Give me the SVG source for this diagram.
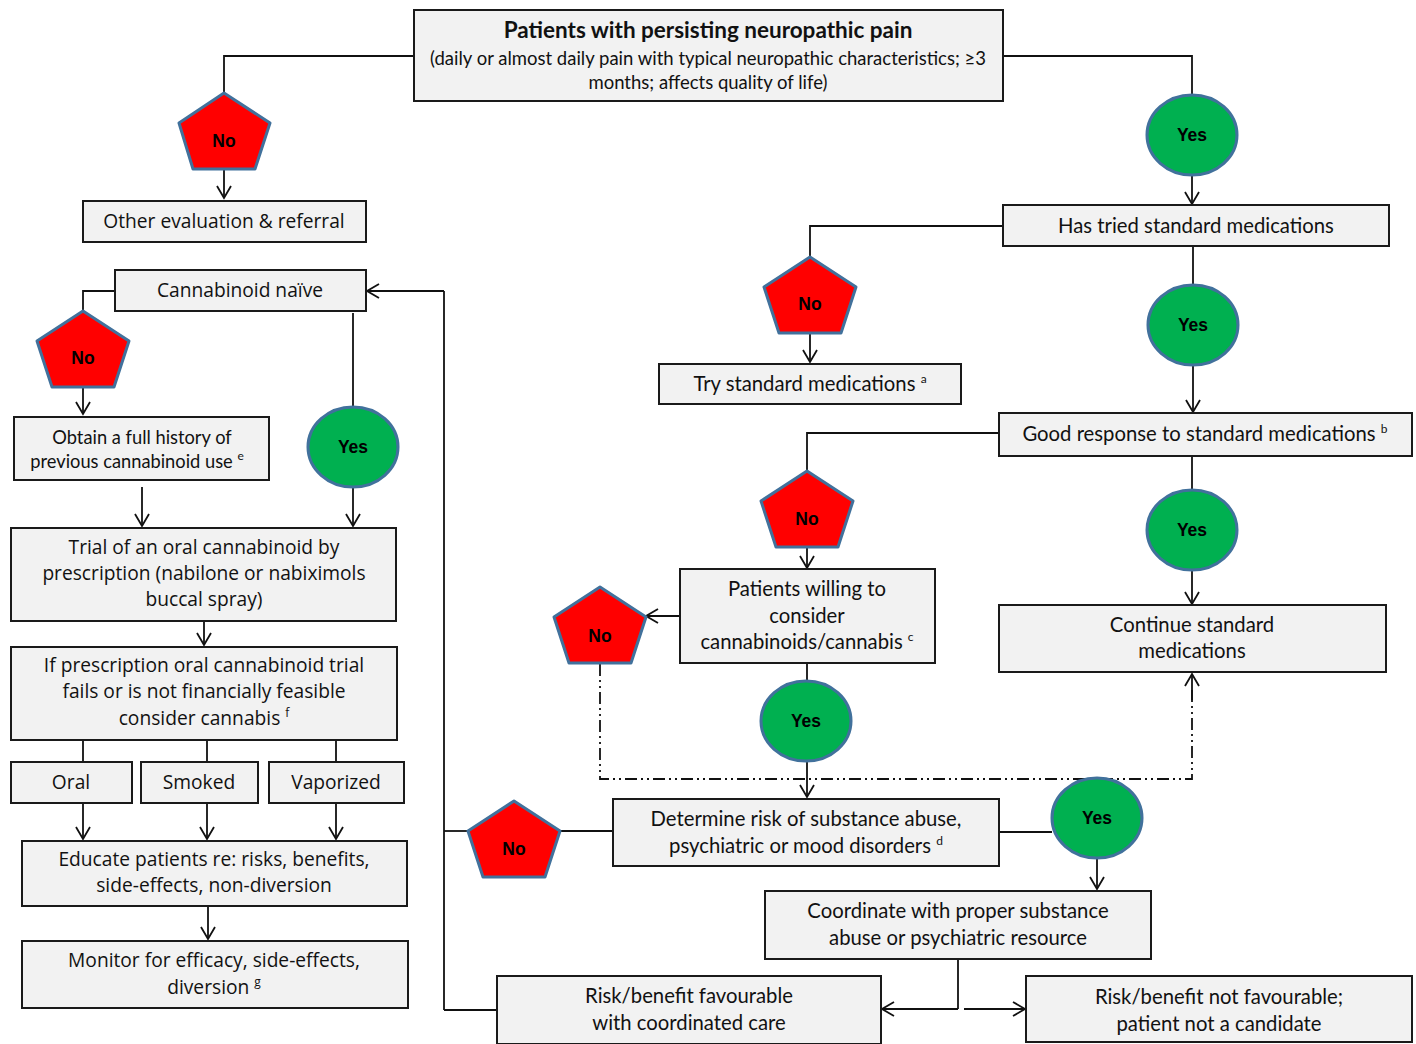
<svg xmlns="http://www.w3.org/2000/svg" width="1416" height="1044" viewBox="0 0 1416 1044">
<style>
.box{fill:#f2f2f2;stroke:#1a1a1a;stroke-width:2}
.no{fill:#ff0000;stroke:#41719c;stroke-width:3;stroke-linejoin:round}
.yes{fill:#00b050;stroke:#41719c;stroke-width:3}
.lbl{font-family:"Liberation Sans",Arial,sans-serif;font-weight:bold;font-size:17.5px;fill:#000;text-anchor:middle}
.a{font-family:"Open Sans","Noto Sans",sans-serif;font-size:19.2px;fill:#111;text-anchor:middle}
.b{font-family:Lato,"Liberation Sans",sans-serif;font-size:20.3px;fill:#111;text-anchor:middle}
.sup{font-size:12px}
.c{fill:none;stroke:#111;stroke-width:1.8}
.ar{marker-end:url(#arr)}
.dd{fill:none;stroke:#111;stroke-width:1.8;stroke-dasharray:12 4 2 4 2 4}
</style>
<defs>
<marker id="arr" markerUnits="userSpaceOnUse" markerWidth="16" markerHeight="18" refX="13" refY="9" orient="auto">
<path d="M1,2 L13,9 L1,16" fill="none" stroke="#111" stroke-width="1.8"/>
</marker>
</defs>

<g id="connectors">
<path class="c" d="M414,56 H224 V93"/>
<path class="c ar" d="M224,169 V198"/>
<path class="c" d="M1003,56 H1192 V95"/>
<path class="c ar" d="M1192,175 V204"/>
<path class="c" d="M1003,226 H810 V257"/>
<path class="c ar" d="M810,333 V362"/>
<path class="c" d="M1193,246 V285"/>
<path class="c ar" d="M1193,365 V412"/>
<path class="c" d="M999,433 H807 V471"/>
<path class="c ar" d="M807,547 V568"/>
<path class="c" d="M1192,456 V490"/>
<path class="c ar" d="M1192,570 V604"/>
<path class="c ar" d="M680,616 H646"/>
<path class="c" d="M807,663 V681"/>
<path class="c ar" d="M807,761 V797"/>
<path class="dd" d="M600,664 V779 H1192 V690"/>
<path class="c ar" d="M1192,700 V674"/>
<path class="c" d="M613,831 H560"/>
<path class="c" d="M468,831 H444"/>
<path class="c" d="M444,1010 V291"/>
<path class="c ar" d="M444,291 H367"/>
<path class="c" d="M444,1010 H497"/>
<path class="c" d="M999,832 H1052"/>
<path class="c ar" d="M1097,858 V889"/>
<path class="c" d="M958,959 V1009"/>
<path class="c ar" d="M958,1009 H882"/>
<path class="c ar" d="M964,1009 H1025"/>
<path class="c" d="M115,291 H83 V311"/>
<path class="c ar" d="M83,387 V414"/>
<path class="c" d="M353,313 V407"/>
<path class="c ar" d="M353,487 V526"/>
<path class="c ar" d="M142,487 V526"/>
<path class="c ar" d="M204,621 V645"/>
<path class="c" d="M83,740 V762 M207,740 V762 M336,740 V762"/>
<path class="c ar" d="M83,803 V839"/>
<path class="c ar" d="M207,803 V839"/>
<path class="c ar" d="M336,803 V839"/>
<path class="c ar" d="M208,906 V939"/>
</g>

<g id="n-top"><rect class="box" x="414" y="10" width="589" height="91"/>
<text class="b" x="708" y="38" style="font-weight:bold;font-size:22.5px">Patients with persisting neuropathic pain</text>
<text class="b" x="708" y="65" style="font-size:18.5px">(daily or almost daily pain with typical neuropathic characteristics; ≥3</text>
<text class="b" x="708" y="89" style="font-size:18.5px">months; affects quality of life)</text></g>

<g id="no1"><polygon class="no" points="224,93 270,123 255,169 193,169 179,123"/><text class="lbl" x="224" y="147">No</text></g>
<g id="n-other"><rect class="box" x="83" y="201" width="283" height="41"/><text class="a" x="224" y="228">Other evaluation &amp; referral</text></g>

<g id="yes1"><ellipse class="yes" cx="1192" cy="135" rx="45" ry="40"/><text class="lbl" x="1192" y="141">Yes</text></g>
<g id="n-tried"><rect class="box" x="1003" y="205" width="386" height="41"/><text class="b" x="1196" y="233">Has tried standard medications</text></g>

<g id="no2"><polygon class="no" points="810,257 856,287 841,333 779,333 764,287"/><text class="lbl" x="810" y="310">No</text></g>
<g id="n-try"><rect class="box" x="659" y="364" width="302" height="40"/><text class="b" x="810" y="391">Try standard medications <tspan class="sup" dy="-8">a</tspan></text></g>

<g id="yes2"><ellipse class="yes" cx="1193" cy="325" rx="45" ry="40"/><text class="lbl" x="1193" y="331">Yes</text></g>
<g id="n-good"><rect class="box" x="999" y="413" width="413" height="43"/><text class="b" x="1205" y="441">Good response to standard medications <tspan class="sup" dy="-8">b</tspan></text></g>

<g id="no3"><polygon class="no" points="807,471 853,501 838,547 776,547 761,501"/><text class="lbl" x="807" y="525">No</text></g>
<g id="yes3"><ellipse class="yes" cx="1192" cy="530" rx="45" ry="40"/><text class="lbl" x="1192" y="536">Yes</text></g>

<g id="n-willing"><rect class="box" x="680" y="569" width="255" height="94"/>
<text class="b" x="807" y="596">Patients willing to</text>
<text class="b" x="807" y="623">consider</text>
<text class="b" x="807" y="649">cannabinoids/cannabis <tspan class="sup" dy="-8">c</tspan></text></g>

<g id="n-continue"><rect class="box" x="999" y="605" width="387" height="67"/>
<text class="b" x="1192" y="632">Continue standard</text>
<text class="b" x="1192" y="658">medications</text></g>

<g id="no4"><polygon class="no" points="600,587 646,617 631,663 569,663 554,617"/><text class="lbl" x="600" y="642">No</text></g>
<g id="yes4"><ellipse class="yes" cx="806" cy="721" rx="45" ry="40"/><text class="lbl" x="806" y="727">Yes</text></g>

<g id="n-determine"><rect class="box" x="613" y="799" width="386" height="67"/>
<text class="b" x="806" y="826">Determine risk of substance abuse,</text>
<text class="b" x="806" y="853">psychiatric or mood disorders <tspan class="sup" dy="-8">d</tspan></text></g>

<g id="no5"><polygon class="no" points="514,801 560,831 545,877 483,877 468,831"/><text class="lbl" x="514" y="855">No</text></g>
<g id="yes5"><ellipse class="yes" cx="1097" cy="818" rx="45" ry="40"/><text class="lbl" x="1097" y="824">Yes</text></g>

<g id="n-coord"><rect class="box" x="765" y="891" width="386" height="68"/>
<text class="b" x="958" y="918">Coordinate with proper substance</text>
<text class="b" x="958" y="945">abuse or psychiatric resource</text></g>

<g id="n-fav"><rect class="box" x="497" y="976" width="384" height="68"/>
<text class="b" x="689" y="1003">Risk/benefit favourable</text>
<text class="b" x="689" y="1030">with coordinated care</text></g>

<g id="n-notfav"><rect class="box" x="1026" y="976" width="386" height="66"/>
<text class="b" x="1219" y="1004">Risk/benefit not favourable;</text>
<text class="b" x="1219" y="1031">patient not a candidate</text></g>

<g id="n-naive"><rect class="box" x="115" y="270" width="251" height="41"/><text class="a" x="240" y="297">Cannabinoid naïve</text></g>

<g id="no6"><polygon class="no" points="83,311 129,341 114,387 52,387 37,341"/><text class="lbl" x="83" y="364">No</text></g>
<g id="yes6"><ellipse class="yes" cx="353" cy="447" rx="45" ry="40"/><text class="lbl" x="353" y="453">Yes</text></g>

<g id="n-obtain"><rect class="box" x="14" y="417" width="255" height="63"/>
<text class="b" x="142" y="444" style="font-size:18.3px">Obtain a full history of</text>
<text class="b" x="137" y="468" style="font-size:18.3px">previous cannabinoid use <tspan class="sup" dy="-8">e</tspan></text></g>

<g id="n-trial"><rect class="box" x="11" y="528" width="385" height="93"/>
<text class="a" x="204" y="554">Trial of an oral cannabinoid by</text>
<text class="a" x="204" y="580">prescription (nabilone or nabiximols</text>
<text class="a" x="204" y="606">buccal spray)</text></g>

<g id="n-if"><rect class="box" x="11" y="647" width="386" height="93"/>
<text class="a" x="204" y="672">If prescription oral cannabinoid trial</text>
<text class="a" x="204" y="698">fails or is not financially feasible</text>
<text class="a" x="204" y="725">consider cannabis <tspan class="sup" dy="-8">f</tspan></text></g>

<g id="n-oral"><rect class="box" x="11" y="762" width="121" height="41"/><text class="a" x="71" y="789">Oral</text></g>
<g id="n-smoked"><rect class="box" x="141" y="762" width="117" height="41"/><text class="a" x="199" y="789">Smoked</text></g>
<g id="n-vapor"><rect class="box" x="269" y="762" width="135" height="41"/><text class="a" x="336" y="789">Vaporized</text></g>

<g id="n-educate"><rect class="box" x="22" y="841" width="385" height="65"/>
<text class="a" x="214" y="866">Educate patients re: risks, benefits,</text>
<text class="a" x="214" y="892">side-effects, non-diversion</text></g>

<g id="n-monitor"><rect class="box" x="22" y="941" width="386" height="67"/>
<text class="a" x="214" y="967">Monitor for efficacy, side-effects,</text>
<text class="a" x="214" y="994">diversion <tspan class="sup" dy="-8">g</tspan></text></g>
</svg>
